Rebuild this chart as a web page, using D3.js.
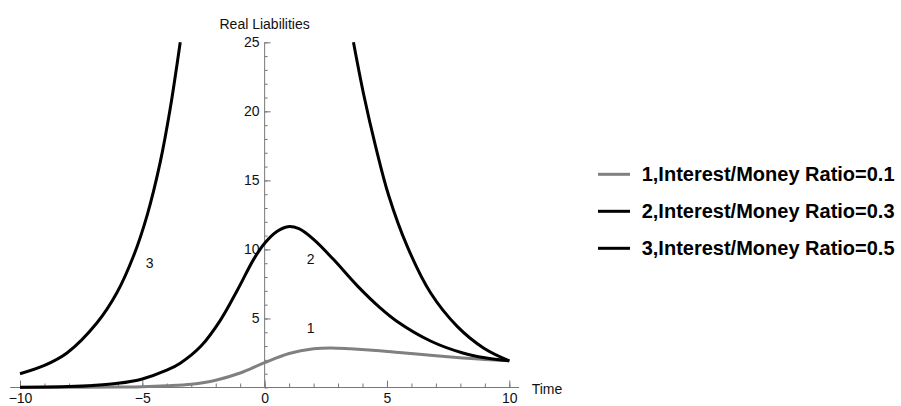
<!DOCTYPE html>
<html>
<head>
<meta charset="utf-8">
<script src="https://cdn.jsdelivr.net/npm/d3@7"></script>
<style>
  html, body { margin: 0; padding: 0; background: #fff; }
  svg { display: block; font-family: "Liberation Sans", Arial, sans-serif; }
</style>
</head>
<body>
<svg id="chart" width="901" height="406"></svg>
<script>
// Real liabilities over time for three interest/money ratios: [time, value]
const series1 = [[-10, 0.0], [-8, 0.01], [-6, 0.03], [-5, 0.05], [-4, 0.12], [-3, 0.24],
  [-2, 0.53], [-1, 1.05], [0, 1.8], [1, 2.46], [2, 2.8], [2.7, 2.86], [3.5, 2.8],
  [4.7, 2.66], [5.5, 2.53], [7, 2.3], [8.1, 2.14], [9, 2.03], [10, 1.93]];
const series2 = [[-10, 0.02], [-8, 0.07], [-7, 0.15], [-6, 0.3], [-5, 0.62], [-4, 1.25],
  [-3.45, 1.76], [-2.6, 3.0], [-1.8, 4.9], [-1.1, 7.1], [-0.45, 9.28], [0, 10.45],
  [0.5, 11.3], [0.95, 11.65], [1.4, 11.5], [2.0, 10.73], [2.8, 9.3], [3.8, 7.34],
  [4.7, 5.8], [5.4, 4.8], [6.8, 3.35], [8.1, 2.5], [9, 2.15], [10, 1.93]];
// series 3 leaves the plot range above 25 between the two branches
const series3 = [[-10, 1.0], [-9, 1.6], [-8.08, 2.5], [-6.86, 4.67], [-6.04, 6.86],
  [-5.36, 9.52], [-4.81, 12.43], [-4.27, 16.3], [-3.86, 20.2], [-3.45, 25],
  [0, null],
  [3.63, 25], [4.05, 21.2], [4.53, 17.5], [5.07, 13.9], [5.82, 10.25], [6.78, 6.86],
  [7.87, 4.43], [8.96, 2.85], [10, 1.93]];

const seriesNames = ["1,Interest/Money Ratio=0.1", "2,Interest/Money Ratio=0.3", "3,Interest/Money Ratio=0.5"];
const seriesColors = ["#808080", "#000000", "#000000"];
// in-plot curve tags: [label, time, value]
const curveTags = [["1", 1.88, 4.28], ["2", 1.88, 9.3], ["3", -4.7, 9.0]];

const xMajor = [-10, -5, 0, 5, 10];
const yMajor = [5, 10, 15, 20, 25];
const xMinor = d3.range(-10, 11, 1);
const yMinor = d3.range(0, 26, 1);

const svg = d3.select("#chart");
const x = d3.scaleLinear().domain([-10, 10]).range([20, 509.3]);
const y = d3.scaleLinear().domain([0, 25]).range([387.5, 42.3]);

const axisColor = "#777";
const textColor = "#111";

// minor ticks
svg.append("g").attr("transform", `translate(0,${y(0)})`)
  .call(d3.axisBottom(x).tickValues(xMinor).tickSize(-4).tickSizeOuter(0).tickFormat(""))
  .call(g => g.select(".domain").remove());
svg.append("g").attr("transform", `translate(${x(0)},0)`)
  .call(d3.axisLeft(y).tickValues(yMinor).tickSize(-3).tickSizeOuter(0).tickFormat(""))
  .call(g => g.select(".domain").remove());

// major ticks with labels
svg.append("g").attr("transform", `translate(0,${y(0)})`)
  .call(d3.axisBottom(x).tickValues(xMajor).tickSize(-7).tickSizeOuter(0).tickPadding(6))
  .call(g => g.select(".domain").remove());
svg.append("g").attr("transform", `translate(${x(0)},0)`)
  .call(d3.axisLeft(y).tickValues(yMajor).tickSize(-6).tickSizeOuter(0).tickPadding(5))
  .call(g => g.select(".domain").remove());

svg.selectAll(".tick line").attr("stroke", axisColor).attr("stroke-width", 1);
svg.selectAll(".tick text").attr("fill", textColor)
  .style("font-size", "14px").style("font-family", "'Liberation Sans', Arial, sans-serif");

// axis lines
svg.append("line")
  .attr("x1", x(-10.4)).attr("x2", x(10.4))
  .attr("y1", y(0)).attr("y2", y(0))
  .attr("stroke", axisColor).attr("stroke-width", 1);
svg.append("line")
  .attr("x1", x(0)).attr("x2", x(0))
  .attr("y1", y(0)).attr("y2", y(25))
  .attr("stroke", axisColor).attr("stroke-width", 1);

// axis titles
svg.append("text")
  .attr("x", x(0)).attr("y", 29.3)
  .attr("text-anchor", "middle")
  .attr("fill", textColor).style("font-size", "14px")
  .text("Real Liabilities");
svg.append("text")
  .attr("x", 531.7).attr("y", y(0) + 6)
  .attr("fill", textColor).style("font-size", "14px")
  .text("Time");

// curve tags
svg.selectAll(".tag").data(curveTags).join("text")
  .attr("class", "tag")
  .attr("x", d => x(d[1])).attr("y", d => y(d[2]))
  .attr("dy", "0.36em")
  .attr("text-anchor", "middle")
  .attr("fill", textColor).style("font-size", "14px")
  .text(d => d[0]);

// curves
const line = d3.line()
  .defined(d => d[1] !== null)
  .x(d => x(d[0])).y(d => y(d[1]))
  .curve(d3.curveCatmullRom.alpha(0.5));

[series1, series2, series3].forEach((s, i) => {
  svg.append("path")
    .datum(s)
    .attr("fill", "none")
    .attr("stroke", seriesColors[i])
    .attr("stroke-width", 3)
    .attr("stroke-linejoin", "round")
    .attr("d", line);
});

// legend
const legend = svg.append("g").attr("transform", "translate(598,174.3)");
seriesNames.forEach((name, i) => {
  const row = legend.append("g").attr("transform", `translate(0,${i * 37})`);
  row.append("line")
    .attr("x1", 0).attr("x2", 32).attr("y1", 0).attr("y2", 0)
    .attr("stroke", seriesColors[i]).attr("stroke-width", 3);
  row.append("text")
    .attr("x", 43.7).attr("y", 7)
    .attr("fill", "#000")
    .style("font-size", "20px").style("font-weight", "bold")
    .text(name);
});
</script>
</body>
</html>
